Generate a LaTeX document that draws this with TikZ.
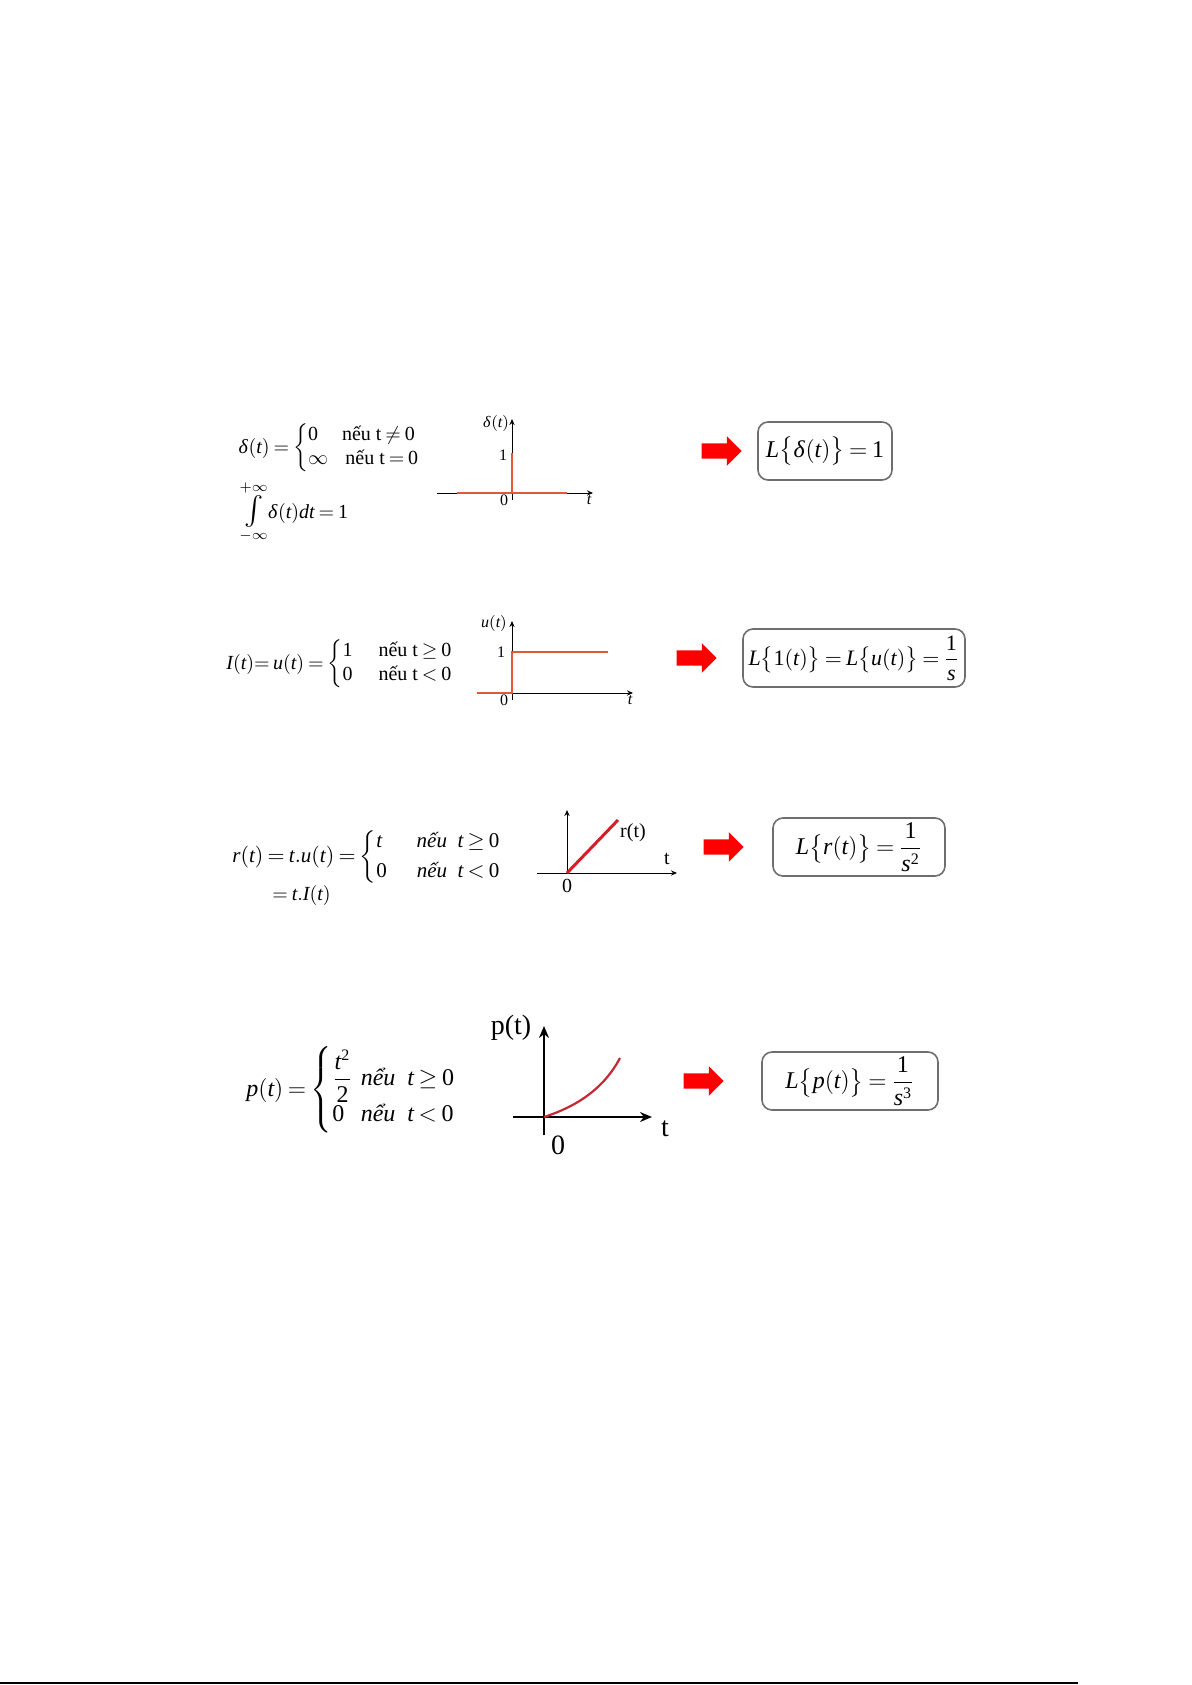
\documentclass[tikz,border=0pt]{standalone}
\usepackage{amsmath}
\usepackage{mathspec}
\setmainfont{Liberation Serif}
\setmathsfont(Digits,Latin,Greek){Liberation Serif}
\usetikzlibrary{arrows.meta,positioning,shapes.arrows}
\definecolor{sigorange}{RGB}{226,88,52}
\definecolor{sigred}{RGB}{214,30,40}
\definecolor{sigdark}{RGB}{196,40,50}
\definecolor{boxgray}{RGB}{110,110,110}
\tikzset{
  formula/.style={anchor=west, inner sep=0pt},
  lbl/.style={inner sep=0pt, font=\fontsize{8}{9}\selectfont},
  axis/.style={-{Stealth[length=3pt,width=2.6pt]}, line width=0.5pt},
  bigaxis/.style={-{Stealth[length=6pt,width=5pt]}, line width=0.9pt},
  signal/.style={sigorange, line width=1pt},
  resultbox/.style={draw=boxgray, line width=0.8pt, rounded corners=5pt, minimum height=29pt, inner sep=2pt, font=\fontsize{12}{14}\selectfont},
  redarrow/.style={single arrow, fill=red, draw=none, minimum height=20pt, inner sep=3.6pt, single arrow head extend=3.6pt}
}
\begin{document}
\thickmuskip=3.5mu plus 2mu
\begin{tikzpicture}[x=0.5pt, y=-0.5pt]
\useasboundingbox (0,0) rectangle (1192,1685);
% delta impulse
\node[formula, font=\fontsize{10}{12}\selectfont] (deltadef) at (238,448)
  {$\delta(t)=\left\{\begin{array}{@{}l@{\hspace{7pt}}l@{}}0 & \text{nếu t}\neq 0\\ \infty & \text{\,nếu t}=0\end{array}\right.$};
\node[formula, font=\fontsize{10}{12}\selectfont] (deltaint) at (239,512)
  {$\mathop{\text{\fontsize{15}{15}\selectfont$\int$}}\limits_{-\infty}^{+\infty}\!\delta(t)dt=1$};
\coordinate (o1) at (512,493);
\draw[axis] (437,493) -- (593,493);
\draw[axis] (512,500) -- (512,419);
\draw[signal] (457,493) -- (567,493);
\draw[signal] (o1) -- (512,453);
\node[lbl] (dlab) at (496,423) {$\delta(t)$};
\node[lbl] (done) at (503,455) {1};
\node[lbl] (dzero) at (504,500) {0};
\node[lbl] (dt) at (589,500) {$t$};
\node[resultbox, minimum width=67pt] (res1) at (825,451) {$L\big\{\delta(t)\big\}=1$};
\node[redarrow, left=7.5pt of res1] (arr1) {};
% unit step
\node[formula, font=\fontsize{10}{12}\selectfont] (stepdef) at (226,664)
  {$I(t){=}\,u(t)=\left\{\begin{array}{@{}l@{\hspace{13pt}}l@{}}1 & \text{nếu t}\geq 0\\ 0 & \text{nếu t}<0\end{array}\right.$};
\coordinate (o2) at (512,693);
\draw[axis] (477,693) -- (633,693);
\draw[axis] (512,700) -- (512,621);
\draw[signal] (477,693) -- (o2) -- (512,652) -- (608,652);
\node[lbl] (ulab) at (494,623) {$u(t)$};
\node[lbl] (uone) at (501,652) {1};
\node[lbl] (uzero) at (504,700) {0};
\node[lbl] (ut) at (630,700) {$t$};
\node[resultbox, minimum width=111pt, font=\fontsize{11}{13}\selectfont] (res2) at (854,658) {$L\big\{1(t)\big\}=L\big\{u(t)\big\}=\dfrac{1}{s}$};
\node[redarrow, left=12.5pt of res2] (arr2) {};
% ramp
\node[formula, font=\fontsize{10.5}{13}\selectfont] (rampdef) at (232,857)
  {$r(t)=t.u(t)=\left\{\begin{array}{@{}l@{\hspace{15pt}}l@{}}t & \textit{nếu}\ \ t\geq 0\\[2pt] 0 & \textit{nếu}\ \ t<0\end{array}\right.$};
\node[formula, font=\fontsize{10}{12}\selectfont] (rampalt) at (272,895) {$=t.I(t)$};
\coordinate (o3) at (567,873);
\draw[axis] (537,873) -- (677,873);
\draw[axis] (o3) -- (567,810);
\draw[sigred, line width=1.5pt] (o3) -- (618,820);
\node[lbl, font=\fontsize{10}{12}\selectfont] (rlab) at (633,833) {r(t)};
\node[lbl, font=\fontsize{10}{12}\selectfont] (rt) at (667,859) {t};
\node[lbl, font=\fontsize{10}{12}\selectfont] (rzero) at (567,886) {0};
\node[resultbox, minimum width=86pt] (res3) at (859,847) {$L\big\{r(t)\big\}=\dfrac{1}{s^2}$};
\node[redarrow, left=14pt of res3] (arr3) {};
% parabola
\node[formula, font=\fontsize{12}{14}\selectfont] (paradef) at (246,1090)
  {$p(t)=\left\{\begin{array}{@{}l@{\hspace{4pt}}l@{}}\dfrac{t^2}{2} & \textit{nểu}\ \ t\geq 0\\ 0 & \textit{nểu}\ \ t<0\end{array}\right.$};
\coordinate (o4) at (544,1117);
\draw[bigaxis] (513,1117) -- (652,1117);
\draw[bigaxis] (544,1135) -- (544,1026);
\draw[sigdark, line width=1.1pt] (o4) .. controls (578,1106) and (604,1088) .. (620,1058);
\node[lbl, font=\fontsize{14}{16}\selectfont] (plab) at (511,1028) {p(t)};
\node[lbl, font=\fontsize{14}{16}\selectfont] (pzero) at (558,1145) {0};
\node[lbl, font=\fontsize{14}{16}\selectfont] (pt) at (665,1129) {t};
\node[resultbox, minimum width=88pt] (res4) at (850,1081) {$L\big\{p(t)\big\}=\dfrac{1}{s^3}$};
\node[redarrow, left=18.5pt of res4] (arr4) {};
% page rule
\draw[line width=1pt] (0,1683) -- (1078,1683);
\end{tikzpicture}
\end{document}
